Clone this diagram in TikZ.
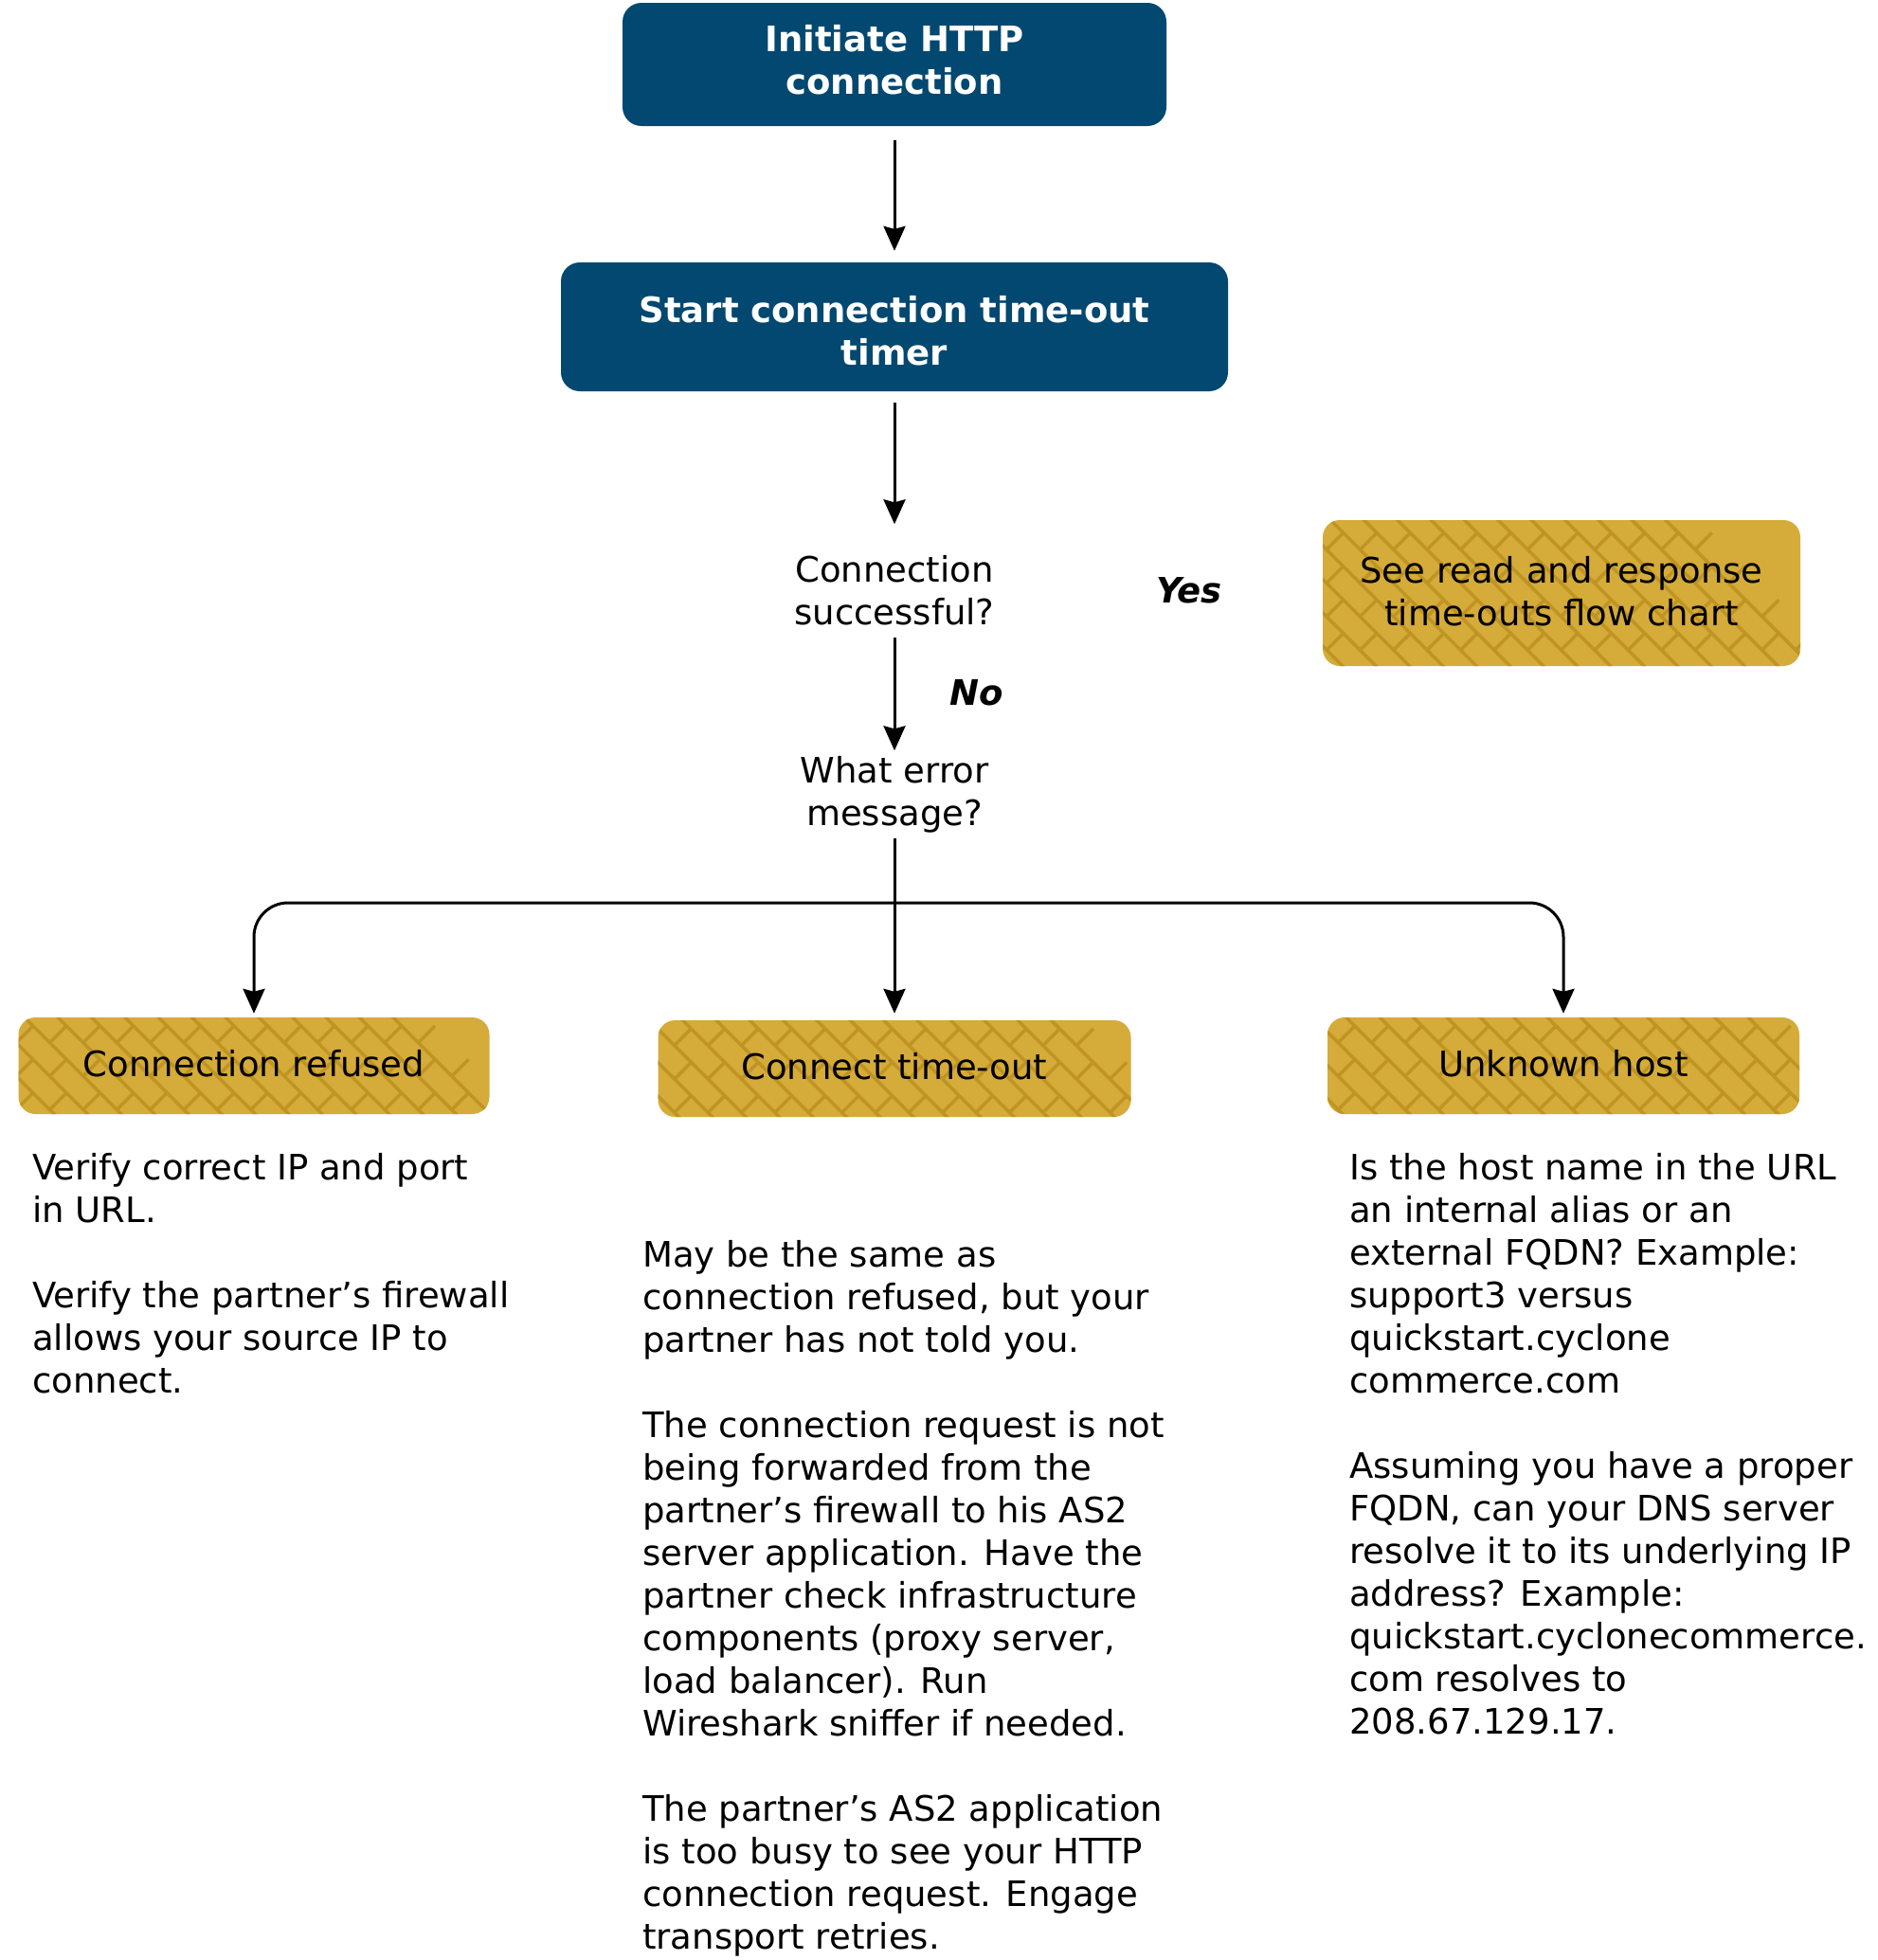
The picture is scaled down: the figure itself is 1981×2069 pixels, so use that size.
\documentclass[tikz,border=0pt]{standalone}
\usepackage{fontspec}
\setmainfont{DejaVu Sans}
\usetikzlibrary{arrows.meta}
\definecolor{navy}{RGB}{2,72,112}
\definecolor{gold}{RGB}{213,171,57}
\definecolor{goldline}{RGB}{191,148,35}
\newcommand{\tblock}[2]{\begin{tabular}[t]{@{}#1@{}}#2\end{tabular}}
\newcommand{\basefont}{\fontsize{37}{45}\selectfont}
\tikzset{
  bluebox/.style={fill=navy, text=white, font=\basefont\bfseries, rounded corners=20pt, inner sep=0pt},
  goldbox/.style={fill=gold, rounded corners=18pt, inner sep=0pt,
    path picture={
      \begin{scope}[shift={(path picture bounding box.center)}]
        \foreach \k in {-11,...,11} {
          \draw[goldline, line width=3.5pt] (-110+\k*35.36,-110) -- (110+\k*35.36,110);
          \pgfmathsetmacro\off{mod(abs(\k),2)*17.68}
          \foreach \m in {-9,...,9} {
            \draw[goldline, line width=3.5pt] ({\m*35.36+\off+\k*17.68},{\m*35.36+\off-\k*17.68}) -- ++(17.68,-17.68);
          }
        }
      \end{scope}
    }},
  arr/.style={-{Stealth[length=26pt,width=23pt,inset=3pt]}, line width=3pt},
  plain/.style={inner sep=0pt},
  lbl/.style={inner sep=0pt, font=\basefont\bfseries\itshape}
}
\begin{document}
\begin{tikzpicture}[x=1pt, y=-1pt, font=\basefont]
\useasboundingbox (0,0) rectangle (1981,2069);
\fill[white] (0,0) rectangle (1981,2069);

\node[bluebox, minimum width=574pt, minimum height=130pt] (b1) at (944,68) {\tblock{c}{Initiate HTTP\\connection}};
\node[bluebox, minimum width=704pt, minimum height=136pt, text height=40pt, text depth=50pt] (b2) at (944,345) {\tblock{c}{Start connection time-out\\timer}};

\node[plain, anchor=base] (q1) at (944,614) {\tblock{c}{Connection\\successful?}};
\node[lbl, anchor=base] (yes) at (1255,636) {Yes};
\node[goldbox, minimum width=504pt, minimum height=154pt, text height=32pt, text depth=53pt] (g0) at (1648,626) {\tblock{c}{See read and response\\time-outs flow chart}};

\node[plain, anchor=base] (q2) at (944,826) {\tblock{c}{What error\\message?}};
\node[lbl, anchor=base] (no) at (1031,744) {No};

\node[goldbox, minimum width=497pt, minimum height=102pt, text height=26pt, text depth=4pt] (r1) at (268,1125) {Connection refused};
\node[goldbox, minimum width=499pt, minimum height=102pt, text height=26pt, text depth=4pt] (r2) at (944,1128) {Connect time-out};
\node[goldbox, minimum width=498pt, minimum height=102pt, text height=26pt, text depth=4pt] (r3) at (1650,1125) {Unknown host};

\node[plain, anchor=base west] (t1) at (34,1245) {\tblock{l}{Verify correct IP and port\\in URL.\\ \\Verify the partner’s firewall\\allows your source IP to\\connect.}};
\node[plain, anchor=base west] (t2) at (678,1337) {\tblock{l}{May be the same as\\connection refused, but your\\partner has not told you.\\ \\The connection request is not\\being forwarded from the\\partner’s firewall to his AS2\\server application. Have the\\partner check infrastructure\\components (proxy server,\\load balancer). Run\\Wireshark sniffer if needed.\\ \\The partner’s AS2 application\\is too busy to see your HTTP\\connection request. Engage\\transport retries.}};
\node[plain, anchor=base west] (t3) at (1424,1245) {\tblock{l}{Is the host name in the URL\\an internal alias or an\\external FQDN? Example:\\support3 versus\\quickstart.cyclone\\commerce.com\\ \\Assuming you have a proper\\FQDN, can your DNS server\\resolve it to its underlying IP\\address? Example:\\quickstart.cyclonecommerce.\\com resolves to\\208.67.129.17.}};

\draw[arr, shorten <=15pt, shorten >=12pt] (b1.south) -- (b2.north);
\draw[arr, shorten <=12pt, shorten >=29pt] (b2.south) -- (q1.north);
\draw[arr, shorten >=2pt] (q1.south) -- (q2.north);
\draw[arr, shorten >=7pt] (q2.south) -- (r2.north);
\coordinate (j) at (944,953);
\draw[arr, rounded corners=36pt, shorten >=4pt] (j) -| (r1.north);
\draw[arr, rounded corners=36pt, shorten >=4pt] (j) -| (r3.north);
\end{tikzpicture}
\end{document}
